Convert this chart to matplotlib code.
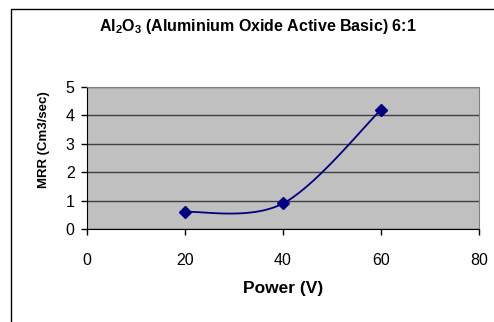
import matplotlib
matplotlib.use('Agg')
import matplotlib.pyplot as plt
import matplotlib.patches as patches
import numpy as np

plt.rcParams['font.family'] = ['Liberation Sans', 'DejaVu Sans']
plt.rcParams['mathtext.fontset'] = 'custom'
plt.rcParams['mathtext.rm'] = 'Liberation Sans:bold'
plt.rcParams['mathtext.default'] = 'rm'

power = [20, 40, 60]
mrr = [0.6, 0.9, 4.2]
xticks = [0, 20, 40, 60, 80]
yticks = [0, 1, 2, 3, 4, 5]


def excel_smooth(xs, ys, n=40):
    # Excel-style smoothed line: cubic bezier, controls at 1/6 of neighbour difference
    p = np.column_stack([xs, ys]).astype(float)
    out = []
    for i in range(len(p) - 1):
        p0 = p[i - 1] if i > 0 else p[i]
        p1, p2 = p[i], p[i + 1]
        p3 = p[i + 2] if i + 2 < len(p) else p[i + 1]
        c1 = p1 + (p2 - p0) / 6
        c2 = p2 - (p3 - p1) / 6
        t = np.linspace(0, 1, n)[:, None]
        seg = (1 - t) ** 3 * p1 + 3 * (1 - t) ** 2 * t * c1 + 3 * (1 - t) * t ** 2 * c2 + t ** 3 * p2
        out.append(seg)
    out = np.vstack(out)
    return out[:, 0], out[:, 1]


fig = plt.figure(figsize=(4.94, 3.22), dpi=100)
ax = fig.add_axes([87 / 494, 1 - 229 / 322, (479 - 87) / 494, (229 - 87) / 322])
ax.set_facecolor('#C0C0C0')

sx, sy = excel_smooth(power, mrr)
ax.plot(sx, sy, color='#000080', lw=1.3, zorder=3)
ax.plot(power, mrr, linestyle='none', marker='D', color='#000080', markersize=6, zorder=4)

ax.set_xlim(0, 80)
ax.set_ylim(0, 5)
ax.set_xticks(xticks)
ax.set_yticks(yticks)
ax.yaxis.grid(True, color='#404040', lw=1)
ax.set_axisbelow(True)
ax.tick_params(axis='both', direction='out', length=4, width=1, labelsize=11.5, color='black')
ax.tick_params(axis='x', pad=13)
ax.tick_params(axis='y', pad=5)
for s in ['top', 'right']:
    ax.spines[s].set_color('#808080')
for s in ['left', 'bottom']:
    ax.spines[s].set_color('black')

fig.text(258 / 494, 1 - 27 / 322, r'Al$_2$O$_3$ (Aluminium Oxide Active Basic) 6:1',
         ha='center', va='center', fontsize=11.5, fontweight='bold')
fig.text(283 / 494, 1 - 288 / 322, 'Power (V)', ha='center', va='center',
         fontsize=12.5, fontweight='bold')
fig.text(44 / 494, 1 - 140 / 322, 'MRR (Cm3/sec)', ha='center', va='center',
         rotation=90, fontsize=9.5, fontweight='bold')

fig.patches.append(patches.Rectangle((11 / 494, -0.2), 1.2, 1 - 9 / 322 + 0.2,
                                     transform=fig.transFigure, fill=False,
                                     edgecolor='black', lw=1))

plt.savefig('out.png', dpi=100)
